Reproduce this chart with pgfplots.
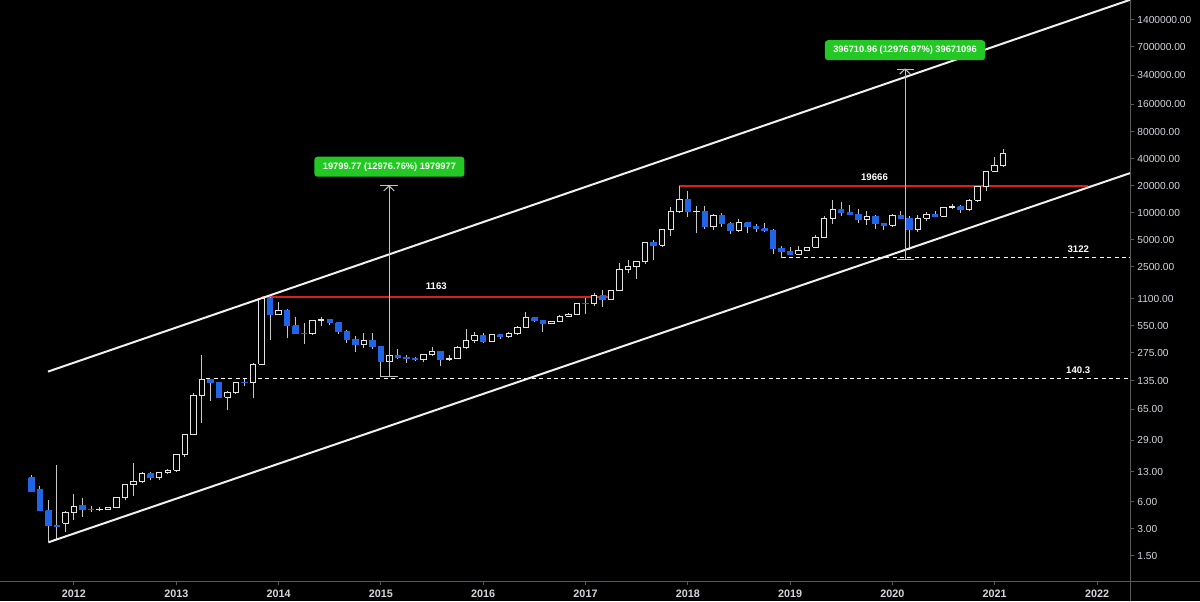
\documentclass[border=0pt]{standalone}
\usepackage{pgfplots}
\pgfplotsset{compat=1.18}
\usepackage{pgfplotstable}
\usepackage{fontspec}
\setmainfont{Liberation Sans}

\definecolor{candleblue}{RGB}{33,100,230}
\definecolor{candlewhite}{RGB}{228,228,228}
\definecolor{wickgray}{RGB}{200,200,200}
\definecolor{channel}{RGB}{240,240,240}
\definecolor{levelred}{RGB}{220,30,32}
\definecolor{labelgreen}{RGB}{36,200,36}
\definecolor{measure}{RGB}{195,195,195}
\definecolor{framegray}{RGB}{90,90,90}
\definecolor{ticktext}{RGB}{212,214,220}

% Monthly OHLC, t = months since January 2012
\pgfplotstableread{
t o h l c
-5 11.2 11.9 7.8 7.9
-4 8.15 9.0 4.7 4.8
-3 4.8 6.3 2.2 3.26
-2 3.3 15.5 2.3 3.2
-1 3.47 4.8 2.78 4.6
0 4.6 7.3 3.8 5.4
1 5.5 6.6 4.1 4.95
2 4.95 5.4 4.6 4.88
3 4.88 5.3 4.7 4.98
4 4.98 5.2 4.9 5.15
5 5.15 6.8 5.1 6.7
6 6.7 9.5 6.3 9.35
7 9.35 16.4 7.0 10.2
8 10.2 12.9 9.8 12.4
9 12.4 12.9 10.6 11.2
10 11.2 12.9 10.5 12.6
11 12.6 13.8 12.3 13.5
12 13.5 20.6 12.9 20.4
13 20.4 34 19.1 33.4
14 33.4 97 33 93
15 93 259 45 139
16 139 140 80 128
17 128 130 86 88
18 88 104 64 100
19 100 130 96 128
20 128 139 117 127
21 127 210 87 205
22 205 1163 200 1100
23 1100 1160 380 730
24 730 1000 720 805
25 805 840 400 550
26 550 686 440 455
27 455 590 340 450
28 450 630 435 625
29 627 680 545 640
30 640 650 560 590
31 590 600 440 480
32 480 495 355 387
33 387 420 283 338
34 338 461 313 378
35 378 455 300 320
36 320 320 152 217
37 217 265 210 254
38 254 300 235 244
39 244 260 214 236
40 236 247 225 230
41 230 268 215 263
42 263 318 253 284
43 284 290 198 230
44 230 262 223 236
45 236 330 235 314
46 314 500 305 377
47 377 465 350 430
48 430 460 350 368
49 368 448 365 437
50 437 440 395 416
51 416 470 405 448
52 448 550 435 531
53 531 780 520 673
54 673 680 600 624
55 624 630 470 575
56 575 612 570 609
57 609 720 605 700
58 700 755 680 742
59 742 975 740 963
60 965 1110 750 960
61 960 1260 920 1190
62 1190 1370 890 1080
63 1080 1350 1060 1348
64 1348 2780 1330 2300
65 2300 2980 2100 2480
66 2480 2900 1840 2875
67 2875 4750 2700 4700
68 4700 4980 2970 4340
69 4340 6470 4110 6460
70 6460 11400 5550 10230
71 10230 19666 10000 13850
72 13850 17200 9000 10220
73 10220 11780 5880 10320
74 10320 11700 6600 6930
75 6930 9740 6430 9240
76 9240 10000 7000 7500
77 7500 7780 5750 6390
78 6390 8500 6100 7730
79 7730 7760 5880 7030
80 7030 7400 6100 6625
81 6625 7680 6100 6320
82 6320 6600 3480 4020
83 4020 4300 3122 3700
84 3700 4100 3350 3440
85 3440 4200 3380 3820
86 3820 4140 3700 4100
87 4100 5600 4040 5320
88 5320 9100 5300 8560
89 8560 13880 7500 10820
90 10820 13200 9070 10080
91 10080 12300 9350 9600
92 9600 10900 7750 8290
93 8290 10500 7300 9150
94 9150 9500 6520 7540
95 7540 7750 6430 7190
96 7190 9570 6860 9350
97 9350 10500 8430 8600
98 8600 9190 3850 6420
99 6420 9460 6150 8630
100 8630 10080 8100 9450
101 9450 10380 8900 9140
102 9140 11450 8980 11350
103 11350 12490 10960 11650
104 11650 12080 9880 10780
105 10780 14100 10380 13800
106 13800 19900 13200 19700
107 19700 29300 17600 28990
108 28990 41950 28100 33100
109 33100 50500 32300 46000
}\candles

\pgfplotstablegetrowsof{\candles}
\pgfmathtruncatemacro{\lastrow}{\pgfplotsretval-1}

\begin{document}
\begin{tikzpicture}
\fill[black] (0,0) rectangle (600pt,300.5pt);
\useasboundingbox (0,0) rectangle (600pt,300.5pt);
\draw[framegray, line width=0.5pt] (0,10pt) -- (600pt,10pt);
\draw[framegray, line width=0.5pt] (565pt,0) -- (565pt,300.5pt);

\begin{axis}[
  at={(0pt,10pt)}, anchor=south west,
  scale only axis, width=565pt, height=290.5pt,
  ymode=log,
  xmin=-8.68, xmax=123.87,
  ymin=0.79, ymax=2.33e6,
  axis line style={draw=none},
  tick style={draw=framegray, line width=0.5pt},
  tick align=outside, major tick length=2pt,
  xtick pos=bottom, ytick pos=right,
  yticklabel pos=right,
  yminorticks=false, minor tick num=0,
  xtick={0,12,...,120},
  xticklabels={2012,2013,2014,2015,2016,2017,2018,2019,2020,2021,2022},
  xticklabel style={font=\fontsize{5.4pt}{6pt}\selectfont\bfseries, text=ticktext, anchor=north, inner sep=0pt, yshift=-2.2pt},
  ytick={1.5,3,6,13,29,65,135,275,550,1100,2500,5000,10000,20000,40000,80000,160000,340000,700000,1400000},
  yticklabels={1.50,3.00,6.00,13.00,29.00,65.00,135.00,275.00,550.00,1100.00,2500.00,5000.00,10000.00,20000.00,40000.00,80000.00,160000.00,340000.00,700000.00,1400000.00},
  yticklabel style={font=\fontsize{5.1pt}{6pt}\selectfont, text=ticktext, anchor=west, inner sep=0pt, xshift=1.5pt},
  wick/.style={wickgray, line width=0.5pt},
  upbody/.style={draw=candlewhite, fill=black, line width=0.5pt},
  downbody/.style={draw=candleblue, fill=candleblue, line width=0.5pt},
]

% support and resistance levels
\addplot[levelred, line width=1pt] coordinates {(22,1163) (63,1163)};
\addplot[levelred, line width=1pt] coordinates {(71,19666) (119,19666)};
\addplot[white, line width=0.5pt, dash pattern=on 2pt off 1.7pt] coordinates {(15.5,140.3) (123.87,140.3)};
\addplot[white, line width=0.5pt, dash pattern=on 2pt off 1.7pt] coordinates {(83,3122) (123.87,3122)};

% candles
\pgfplotsforeachungrouped \i in {0,...,\lastrow}{%
  \pgfplotstablegetelem{\i}{t}\of\candles \let\T\pgfplotsretval
  \pgfplotstablegetelem{\i}{o}\of\candles \let\O\pgfplotsretval
  \pgfplotstablegetelem{\i}{h}\of\candles \let\H\pgfplotsretval
  \pgfplotstablegetelem{\i}{l}\of\candles \let\L\pgfplotsretval
  \pgfplotstablegetelem{\i}{c}\of\candles \let\C\pgfplotsretval
  \pgfmathsetmacro\TA{\T-0.32}%
  \pgfmathsetmacro\TB{\T+0.32}%
  \ifnum\fpeval{\C<\O}=1 \def\bodystyle{downbody}\else\def\bodystyle{upbody}\fi
  \edef\temp{%
    \noexpand\addplot[wick] coordinates {(\T,\L) (\T,\H)};
    \noexpand\addplot[\bodystyle] coordinates {(\TA,\O) (\TB,\O) (\TB,\C) (\TA,\C) (\TA,\O)};
  }%
  \temp
}

% price channel
\addplot[channel, line width=1pt] coordinates {(-3.05,169.6) (123.87,2.34e6)};
\addplot[channel, line width=1pt] coordinates {(-3.01,2.13) (123.87,27500)};

% measurements
\addplot[measure, line width=0.5pt] coordinates {(36.95,151.4) (36.95,19799.77)};
\addplot[measure, line width=0.5pt] coordinates {(35.95,151.4) (37.95,151.4)};
\addplot[measure, line width=0.5pt] coordinates {(35.95,19799.77) (37.95,19799.77)};
\addplot[measure, line width=0.5pt] coordinates {(36.33,17420) (36.95,19799.77) (37.57,17420)};

\addplot[measure, line width=0.5pt] coordinates {(97.48,3033.6) (97.48,396710.96)};
\addplot[measure, line width=0.5pt] coordinates {(96.48,3033.6) (98.48,3033.6)};
\addplot[measure, line width=0.5pt] coordinates {(96.48,396710.96) (98.48,396710.96)};
\addplot[measure, line width=0.5pt] coordinates {(96.86,349100) (97.48,396710.96) (98.10,349100)};

\node[fill=labelgreen, rounded corners=1.5pt, text=white, font=\fontsize{4.64pt}{5pt}\selectfont\bfseries,
      inner xsep=4.2pt, minimum height=10pt, inner ysep=0pt] at (axis cs:37.0,32400) {19799.77 (12976.76\%) 1979977};
\node[fill=labelgreen, rounded corners=1.5pt, text=white, font=\fontsize{4.64pt}{5pt}\selectfont\bfseries,
      inner xsep=4.2pt, minimum height=10pt, inner ysep=0pt] at (axis cs:97.48,643000) {396710.96 (12976.97\%) 39671096};

% level labels
\tikzset{lvl/.style={text=white, font=\fontsize{4.8pt}{5pt}\selectfont\bfseries, inner sep=0pt}}
\node[lvl, yshift=5pt] at (axis cs:42.5,1163) {1163};
\node[lvl, yshift=4.4pt] at (axis cs:93.9,19666) {19666};
\node[lvl, yshift=4.6pt] at (axis cs:117.8,3122) {3122};
\node[lvl, yshift=4.6pt] at (axis cs:117.8,140.3) {140.3};
\end{axis}
\end{tikzpicture}
\end{document}
